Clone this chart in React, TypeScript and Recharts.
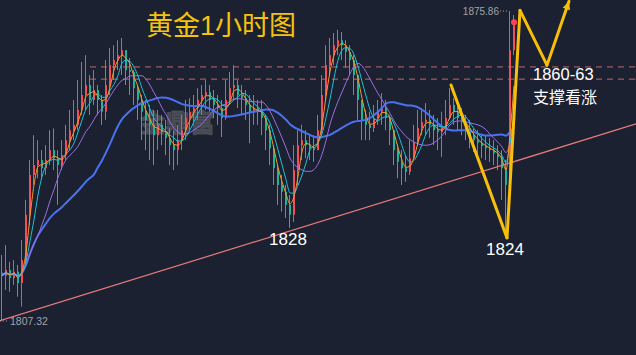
import React from "react";
import { ComposedChart, Bar, Line, XAxis, YAxis, ReferenceLine, ReferenceDot } from "recharts";

// hourly gold candles (one candle per slot)
const closes = [
  1817.3, 1818.6, 1816.8, 1818.2, 1815.7, 1820.8, 1830.8, 1839.6, 1841.8, 1842.9,
  1841.1, 1842.9, 1845.1, 1843.3, 1841.8, 1844.0, 1847.3, 1849.5, 1850.7, 1854.0,
  1857.3, 1859.5, 1856.2, 1858.4, 1856.2, 1853.6, 1859.5, 1863.9, 1865.0, 1866.1,
  1867.2, 1862.8, 1862.4, 1858.8, 1856.2, 1853.6, 1851.8, 1850.7, 1848.4, 1850.7,
  1849.1, 1847.8, 1846.2, 1845.1, 1847.3, 1849.5, 1852.2, 1853.6, 1854.4, 1856.2,
  1857.3, 1857.9, 1856.2, 1855.1, 1854.4, 1852.2, 1856.2, 1858.8, 1859.5, 1857.3,
  1856.6, 1855.1, 1853.6, 1854.4, 1853.6, 1852.2, 1849.5, 1845.5, 1841.1, 1837.4,
  1835.9, 1833.0, 1830.8, 1840.7, 1846.2, 1847.3, 1846.2, 1845.5, 1845.1, 1849.5,
  1857.3, 1863.9, 1866.1, 1868.3, 1869.4, 1868.3, 1866.8, 1865.0, 1861.7, 1856.2,
  1851.8, 1850.7, 1850.0, 1852.2, 1853.6, 1854.4, 1852.2, 1849.5, 1845.1, 1842.5,
  1841.1, 1840.3, 1843.3, 1846.9, 1850.0, 1851.3, 1851.8, 1850.7, 1849.5, 1849.1,
  1850.0, 1852.2, 1855.1, 1853.6, 1852.2, 1851.3, 1850.0, 1848.4, 1847.3, 1846.7,
  1846.0, 1845.5, 1845.1, 1844.4, 1843.6, 1841.1, 1837.4, 1867.2, 1873.4,
];
const highs = [
  1821.9, 1824.1, 1820.4, 1820.8, 1819.7, 1825.2, 1834.1, 1842.9, 1848.4, 1847.3,
  1845.1, 1846.2, 1849.5, 1849.9, 1845.1, 1847.3, 1850.7, 1854.0, 1856.2, 1860.6,
  1864.6, 1866.1, 1861.7, 1862.8, 1859.5, 1857.3, 1865.0, 1867.7, 1868.3, 1869.4,
  1869.9, 1867.2, 1865.5, 1862.8, 1859.5, 1857.3, 1856.2, 1855.1, 1854.0, 1854.0,
  1852.9, 1851.8, 1849.9, 1849.5, 1850.7, 1852.9, 1856.2, 1856.6, 1857.3, 1858.8,
  1859.5, 1860.6, 1859.5, 1858.4, 1857.3, 1856.2, 1860.6, 1862.4, 1863.9, 1860.6,
  1859.5, 1858.4, 1857.3, 1857.3, 1856.2, 1856.2, 1852.9, 1850.7, 1846.2, 1841.8,
  1839.6, 1837.4, 1835.2, 1846.2, 1849.5, 1850.7, 1849.5, 1848.4, 1848.4, 1852.9,
  1861.7, 1868.3, 1869.9, 1871.0, 1871.7, 1871.2, 1869.4, 1868.3, 1866.1, 1861.7,
  1856.2, 1854.0, 1853.6, 1855.1, 1856.2, 1857.7, 1856.2, 1852.9, 1849.5, 1846.2,
  1845.1, 1844.0, 1847.3, 1850.7, 1854.0, 1854.4, 1855.5, 1854.0, 1852.9, 1852.2,
  1853.6, 1856.2, 1858.8, 1856.6, 1855.1, 1854.4, 1852.9, 1851.8, 1849.9, 1849.5,
  1848.4, 1848.4, 1847.8, 1847.3, 1846.2, 1845.1, 1842.9, 1875.86, 1875.0,
];
const lows = [
  1807.32, 1814.2, 1813.8, 1815.3, 1812.7, 1810.5, 1819.7, 1828.5, 1837.4, 1838.9,
  1838.5, 1839.6, 1841.8, 1840.7, 1833.0, 1840.7, 1842.9, 1845.1, 1847.3, 1849.5,
  1852.9, 1854.0, 1852.9, 1855.1, 1852.9, 1850.7, 1851.8, 1857.3, 1860.6, 1862.8,
  1861.7, 1859.5, 1857.3, 1855.1, 1851.8, 1847.3, 1845.1, 1842.9, 1841.8, 1845.1,
  1846.2, 1844.0, 1841.8, 1840.7, 1841.8, 1845.1, 1847.3, 1849.5, 1850.7, 1851.8,
  1852.9, 1854.0, 1853.6, 1852.2, 1850.7, 1848.0, 1851.8, 1855.1, 1856.2, 1854.4,
  1852.9, 1851.8, 1846.6, 1850.7, 1850.7, 1848.4, 1845.1, 1841.8, 1837.4, 1833.0,
  1831.5, 1830.1, 1827.9, 1829.2, 1837.4, 1842.9, 1843.3, 1842.9, 1842.5, 1845.1,
  1848.4, 1856.2, 1861.7, 1863.9, 1866.1, 1865.0, 1863.3, 1861.7, 1857.3, 1851.8,
  1847.3, 1847.3, 1847.3, 1849.1, 1850.7, 1850.7, 1849.5, 1846.2, 1841.8, 1838.9,
  1837.4, 1838.1, 1839.6, 1842.9, 1846.2, 1848.4, 1848.4, 1847.8, 1846.2, 1845.1,
  1843.6, 1848.4, 1851.8, 1850.7, 1849.5, 1848.4, 1847.3, 1845.5, 1844.7, 1844.0,
  1843.3, 1842.9, 1842.5, 1841.8, 1840.7, 1834.1, 1827.0, 1836.3, 1866.1,
];
const firstOpen = 1818.0;

// drawn levels / annotations (price values)
const supportLevels = [1863.5, 1860.8];
const trendLine = [
  { i: -0.5, p: 1807.4 },
  { i: 158.5, p: 1850.9 },
];
const arrowPath = [
  { i: 112.25, p: 1859.5 },
  { i: 126.25, p: 1825.7 },
  { i: 129.5, p: 1876.0 },
  { i: 136.25, p: 1863.9 },
  { i: 141.75, p: 1878.0 },
];

const BG = "#1b2130";
const UP = "#f0505a";
const DOWN = "#1fb39b";
const YELLOW = "#f7bf0c";
const NUM_FONT = "'Liberation Sans', 'Noto Sans CJK SC', sans-serif";

function sma(values: number[], n: number) {
  return values.map((_, i) => {
    const part = values.slice(Math.max(0, i - n + 1), i + 1);
    return part.reduce((a, b) => a + b, 0) / part.length;
  });
}

const ma3 = sma(closes, 3);
const ma5 = sma(closes, 5);
const ma10 = sma(closes, 10);
const ma24 = sma(closes, 24);

const rows = closes.map((c, i) => ({
  i,
  open: i === 0 ? firstOpen : closes[i - 1],
  close: c,
  high: highs[i],
  low: lows[i],
  ma3: ma3[i],
  ma5: ma5[i],
  ma10: ma10[i],
  ma24: ma24[i],
}));

const Candle = (props: any) => {
  const { x, y, width, height, payload } = props;
  const { open, close, high, low } = payload;
  const color = close >= open ? UP : DOWN;
  const top = Math.min(y, y + height);
  const h = Math.abs(height);
  const k = h / (high - low || 1);
  const yo = top + (high - open) * k;
  const yc = top + (high - close) * k;
  const bx = Math.round(x + width / 2 - 1);
  return (
    <g>
      <line x1={bx + 0.5} x2={bx + 0.5} y1={top} y2={top + h} stroke={color} strokeWidth={1} />
      <rect x={bx} y={Math.min(yo, yc)} width={2} height={Math.max(1.5, Math.abs(yo - yc))} fill={color} />
    </g>
  );
};

const YellowSeg = (props: any) => {
  const { x1, y1, x2, y2 } = props;
  return <line x1={x1} y1={y1} x2={x2} y2={y2} stroke={YELLOW} strokeWidth={3} strokeLinecap="round" />;
};

const YellowArrow = (props: any) => {
  const { x1, y1, x2, y2 } = props;
  const a = Math.atan2(y2 - y1, x2 - x1);
  const s = 9;
  const p1 = [x2 - s * Math.cos(a - 0.45), y2 - s * Math.sin(a - 0.45)];
  const p2 = [x2 - s * Math.cos(a + 0.45), y2 - s * Math.sin(a + 0.45)];
  return (
    <g>
      <line x1={x1} y1={y1} x2={x2} y2={y2} stroke={YELLOW} strokeWidth={3} strokeLinecap="round" />
      <path d={`M${x2},${y2}L${p1[0]},${p1[1]}L${p2[0]},${p2[1]}Z`} fill={YELLOW} />
    </g>
  );
};

export default function App() {
  const last = rows.length - 1;
  return (
    <div style={{ position: "absolute", left: 0, top: 0, width: 636, height: 355, background: BG, overflow: "hidden" }}>
      <svg width={636} height={355} style={{ position: "absolute", left: 0, top: 0 }}>
        <text x={140} y={132} fontSize={25} fontFamily="'Noto Sans CJK SC'" fontWeight={700}
          fill="rgba(150,150,155,0.35)" stroke="rgba(90,92,100,0.6)" strokeWidth={1}>金鼎富</text>
      </svg>
      <div style={{ position: "absolute", left: 0, top: 0 }}>
        <ComposedChart width={636} height={355} data={rows} margin={{ top: 0, right: 0, bottom: 0, left: 0 }}>
          <XAxis dataKey="i" type="number" domain={[-0.5, 158.5]} hide allowDataOverflow />
          <YAxis domain={[1799.8, 1878.3]} hide allowDataOverflow />
          {supportLevels.map((lv) => (
            <ReferenceLine key={lv} segment={[{ x: 22, y: lv }, { x: 158.5, y: lv }]} stroke="#c0686e"
              strokeDasharray="6 5" strokeWidth={1} ifOverflow="visible" />
          ))}
          <Bar dataKey={(d: any) => [d.low, d.high]} barSize={2} shape={<Candle />} isAnimationActive={false} />
          <Line dataKey="ma24" stroke="#4a72f0" strokeWidth={2} dot={false} activeDot={false} type="monotone" isAnimationActive={false} />
          <Line dataKey="ma10" stroke="#9a6ee0" strokeWidth={1} dot={false} activeDot={false} type="monotone" isAnimationActive={false} />
          <Line dataKey="ma5" stroke="#1fc0d8" strokeWidth={1} dot={false} activeDot={false} type="monotone" isAnimationActive={false} />
          <Line dataKey="ma3" stroke="#f59a2a" strokeWidth={1} dot={false} activeDot={false} type="monotone" isAnimationActive={false} />
          <ReferenceLine segment={[{ x: trendLine[0].i, y: trendLine[0].p }, { x: trendLine[1].i, y: trendLine[1].p }]}
            stroke="#e87a7a" strokeWidth={1.2} ifOverflow="visible" />
          {arrowPath.slice(1).map((pt, k) => (
            <ReferenceLine key={k} segment={[{ x: arrowPath[k].i, y: arrowPath[k].p }, { x: pt.i, y: pt.p }]}
              ifOverflow="visible" shape={k === arrowPath.length - 2 ? <YellowArrow /> : <YellowSeg />} />
          ))}
          <ReferenceDot x={last} y={closes[last]} r={3} fill="#ff4455" stroke="none" ifOverflow="visible" />
          <ReferenceDot x={72} y={lows[72]} r={0} ifOverflow="visible"
            shape={(p: any) => (
              <text x={p.cx - 2} y={p.cy + 17} textAnchor="middle" fontSize={17} fill="#ffffff" fontFamily={NUM_FONT}>1828</text>
            )} />
          <ReferenceDot x={arrowPath[1].i} y={arrowPath[1].p} r={0} ifOverflow="visible"
            shape={(p: any) => (
              <text x={p.cx - 2} y={p.cy + 17} textAnchor="middle" fontSize={17} fill="#ffffff" fontFamily={NUM_FONT}>1824</text>
            )} />
          <ReferenceDot x={127} y={highs[127]} r={0} ifOverflow="visible"
            shape={(p: any) => (
              <g>
                <line x1={p.cx - 10} x2={p.cx - 1} y1={p.cy} y2={p.cy} stroke="#a0a5ad" strokeDasharray="1 2" />
                <text x={p.cx - 11} y={p.cy + 3.5} textAnchor="end" fontSize={10} fill="#a0a5ad" fontFamily={NUM_FONT}>1875.86</text>
              </g>
            )} />
          <ReferenceDot x={0} y={lows[0]} r={0} ifOverflow="visible"
            shape={(p: any) => (
              <g>
                <line x1={p.cx - 2} x2={p.cx + 7} y1={p.cy} y2={p.cy} stroke="#a0a5ad" strokeDasharray="1 2" />
                <text x={p.cx + 8} y={p.cy + 4} fontSize={10.5} fill="#a0a5ad" fontFamily={NUM_FONT}>1807.32</text>
              </g>
            )} />
        </ComposedChart>
      </div>
      <svg width={636} height={355} style={{ position: "absolute", left: 0, top: 0, pointerEvents: "none" }}>
        <text x={146} y={35} fontSize={27} fill="#f6c20d" fontFamily={NUM_FONT}>黄金1小时图</text>
        <text x={533} y={80} fontSize={16.5} fill="#ffffff" fontFamily={NUM_FONT}>1860-63</text>
        <text x={533} y={103} fontSize={16} fill="#ffffff" fontFamily="'Noto Sans CJK SC'">支撑看涨</text>
      </svg>
    </div>
  );
}
